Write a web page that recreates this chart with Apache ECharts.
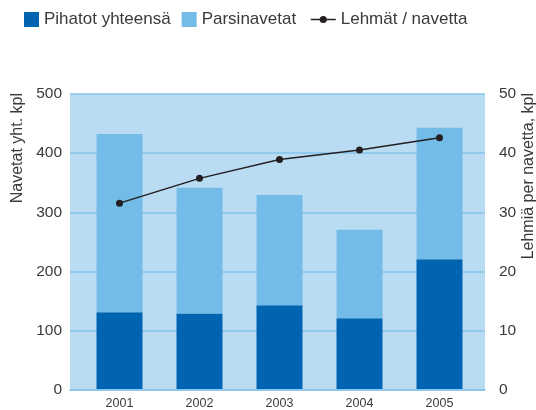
<!DOCTYPE html>
<html>
<head>
<meta charset="utf-8">
<script src="https://cdn.jsdelivr.net/npm/echarts@6/dist/echarts.min.js"></script>
<style>
  html, body { margin: 0; padding: 0; background: #fff; }
  #chart { width: 536px; height: 410px; }
</style>
</head>
<body>
<div id="chart"></div>
<script>
// data
const years = ['2001', '2002', '2003', '2004', '2005'];
const pihatot = [130, 128, 142, 120, 220];
const parsinavetat = [302, 213, 187, 150, 223];
const lehmatPerNavetta = [31.5, 35.7, 38.9, 40.5, 42.6];
const leftTicks = { min: 0, max: 500, interval: 100 };
const rightTicks = { min: 0, max: 50, interval: 10 };

const FONT = '"Liberation Sans", Arial, sans-serif';
const TEXT = '#3a3a3a';
const DARK = '#0064b0';
const LIGHT = '#74bce8';
const PLOT_BG = '#b9dcf3';
const GRID_LINE = '#86c4ec';

const chart = echarts.init(document.getElementById('chart'), null, { renderer: 'canvas' });

chart.setOption({
    animation: false,
    textStyle: { fontFamily: FONT, color: TEXT },
    legend: [
        {
            left: 19,
            top: 6,
            itemWidth: 15,
            itemHeight: 15,
            itemGap: 11,
            icon: 'rect',
            textStyle: { fontFamily: FONT, fontSize: 17, color: TEXT },
            data: ['Pihatot yhteensä', 'Parsinavetat']
        },
        {
            left: 305,
            top: 6,
            itemWidth: 25,
            itemHeight: 9,
            lineStyle: { width: 1.5 },
            textStyle: { fontFamily: FONT, fontSize: 17, color: TEXT },
            data: ['Lehmät / navetta']
        }
    ],
    grid: [
        // bars sit on a band slightly narrower than the shaded plot
        { left: 79.5, right: 56.5, top: 94, bottom: 20 },
        { left: 70, right: 51, top: 94, bottom: 20, show: true, backgroundColor: PLOT_BG, borderWidth: 0 }
    ],
    xAxis: [
        {
            type: 'category',
            gridIndex: 0,
            data: years,
            axisLine: { show: false },
            axisTick: { show: false },
            axisLabel: { fontFamily: FONT, fontSize: 12.5, color: TEXT, margin: 8 }
        },
        {
            type: 'value',
            gridIndex: 1,
            min: 0,
            max: 1,
            axisLine: { show: true, lineStyle: { color: GRID_LINE, width: 1.5 } },
            axisTick: { show: false },
            axisLabel: { show: false },
            splitLine: { show: false }
        }
    ],
    yAxis: [
        { type: 'value', gridIndex: 0, show: false, min: leftTicks.min, max: leftTicks.max, interval: leftTicks.interval },
        { type: 'value', gridIndex: 0, show: false, position: 'right', min: rightTicks.min, max: rightTicks.max, interval: rightTicks.interval },
        {
            type: 'value',
            gridIndex: 1,
            position: 'left',
            min: leftTicks.min,
            max: leftTicks.max,
            interval: leftTicks.interval,
            axisLine: { show: false },
            axisTick: { show: false },
            axisLabel: { fontFamily: FONT, fontSize: 15.5, color: TEXT, margin: 8 },
            splitLine: { show: true, lineStyle: { color: GRID_LINE, width: 1.5 } }
        },
        {
            type: 'value',
            gridIndex: 1,
            position: 'right',
            min: rightTicks.min,
            max: rightTicks.max,
            interval: rightTicks.interval,
            axisLine: { show: false },
            axisTick: { show: false },
            axisLabel: { fontFamily: FONT, fontSize: 15.5, color: TEXT, margin: 14 },
            splitLine: { show: false }
        }
    ],
    graphic: [
        {
            type: 'text',
            x: 18,
            y: 93,
            rotation: Math.PI / 2,
            style: { text: 'Navetat yht. kpl', fontFamily: FONT, fontSize: 16, fill: TEXT, align: 'right', verticalAlign: 'middle' }
        },
        {
            type: 'text',
            x: 529,
            y: 93,
            rotation: Math.PI / 2,
            style: { text: 'Lehmiä per navetta, kpl', fontFamily: FONT, fontSize: 16, fill: TEXT, align: 'right', verticalAlign: 'middle' }
        }
    ],
    series: [
        {
            name: 'Pihatot yhteensä',
            type: 'bar',
            stack: 'navetat',
            xAxisIndex: 0,
            yAxisIndex: 0,
            barWidth: 46,
            itemStyle: { color: DARK },
            data: pihatot
        },
        {
            name: 'Parsinavetat',
            type: 'bar',
            stack: 'navetat',
            xAxisIndex: 0,
            yAxisIndex: 0,
            barWidth: 46,
            itemStyle: { color: LIGHT },
            data: parsinavetat
        },
        {
            name: 'Lehmät / navetta',
            type: 'line',
            xAxisIndex: 0,
            yAxisIndex: 1,
            z: 5,
            symbol: 'circle',
            symbolSize: 7,
            lineStyle: { color: '#231f20', width: 1.5 },
            itemStyle: { color: '#231f20' },
            data: lehmatPerNavetta
        }
    ]
});
</script>
</body>
</html>
